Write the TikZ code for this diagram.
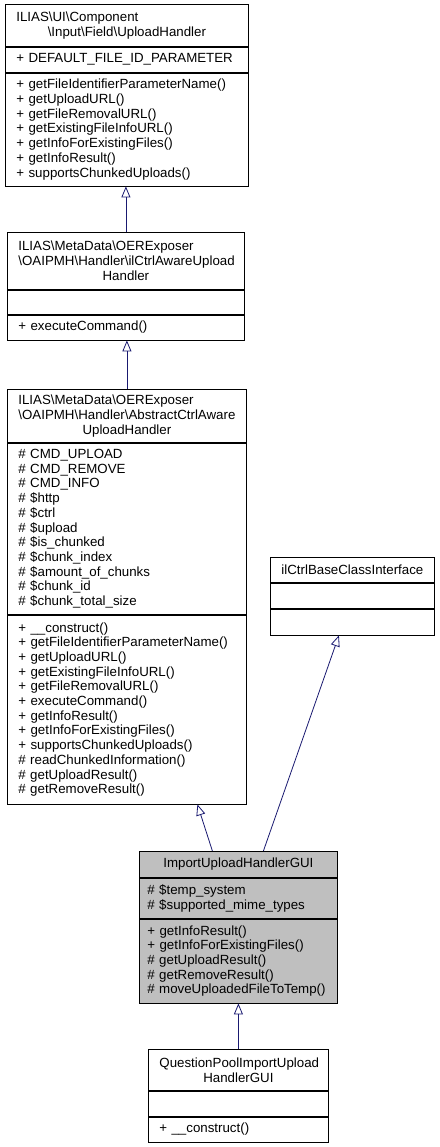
\documentclass[tikz,border=0pt]{standalone}
\usepackage{fontspec}
\setmainfont{Liberation Sans}
\usetikzlibrary{arrows.meta}
\hyphenpenalty=10000
\exhyphenpenalty=10000
\newcommand{\nsep}{\textbackslash}
\newcommand{\lline}[1]{\makebox[\linewidth][l]{#1}}
\definecolor{edgeblue}{HTML}{191970}
\definecolor{curgray}{HTML}{BFBFBF}

\begin{document}
\begin{tikzpicture}[x=1pt, y=-1pt,
    sect/.style={draw=black, line width=0.8pt, fill=white, inner xsep=8pt, inner ysep=0pt,
      anchor=north west, align=left, font=\fontsize{13.3}{14.7}\selectfont},
    head/.style={sect, align=center},
    wide/.style={inner xsep=11pt},
    inh/.style={draw=edgeblue, line width=0.8pt, -{Triangle[open, length=11pt, width=9pt]}}]
    \useasboundingbox (0,0) rectangle (439,1147);

    % UploadHandler 接口
    \node[head, wide, text width=221pt, minimum height=42pt] (uhT) at (5,4)
      {\lline{ILIAS\nsep UI\nsep Component}\\\nsep Input\nsep Field\nsep UploadHandler};
    \node[sect, wide, text width=221pt, minimum height=25pt] (uhA) at (uhT.south west)
      {+ DEFAULT\_FILE\_ID\_PARAMETER};
    \node[sect, wide, text width=221pt, minimum height=113pt] (uhM) at (uhA.south west)
      {+ getFileIdentifierParameterName()\\+ getUploadURL()\\+ getFileRemovalURL()\\
       + getExistingFileInfoURL()\\+ getInfoForExistingFiles()\\+ getInfoResult()\\
       + supportsChunkedUploads()};

    % ilCtrlAwareUploadHandler
    \node[head, wide, text width=215pt, minimum height=57pt] (awT) at (7,232)
      {\lline{ILIAS\nsep MetaData\nsep OERExposer}\\\lline{\nsep OAIPMH\nsep Handler\nsep ilCtrlAwareUpload}\\Handler};
    \node[sect, wide, text width=215pt, minimum height=24pt] (awA) at (awT.south west) {};
    \node[sect, wide, text width=215pt, minimum height=25pt] (awM) at (awA.south west)
      {+ executeCommand()};

    % AbstractCtrlAwareUploadHandler
    \node[head, wide, text width=217pt, minimum height=53pt] (abT) at (7,389)
      {\lline{ILIAS\nsep MetaData\nsep OERExposer}\\\lline{\nsep OAIPMH\nsep Handler\nsep AbstractCtrlAware}\\UploadHandler};
    \node[sect, wide, text width=217pt, minimum height=171pt] (abA) at (abT.south west)
      {\# CMD\_UPLOAD\\\# CMD\_REMOVE\\\# CMD\_INFO\\\# \$http\\\# \$ctrl\\\# \$upload\\
       \# \$is\_chunked\\\# \$chunk\_index\\\# \$amount\_of\_chunks\\\# \$chunk\_id\\
       \# \$chunk\_total\_size};
    \node[sect, wide, text width=217pt, minimum height=189pt] (abM) at (abA.south west)
      {+ \_\_construct()\\+ getFileIdentifierParameterName()\\+ getUploadURL()\\
       + getExistingFileInfoURL()\\+ getFileRemovalURL()\\+ executeCommand()\\
       + getInfoResult()\\+ getInfoForExistingFiles()\\+ supportsChunkedUploads()\\
       \# readChunkedInformation()\\\# getUploadResult()\\\# getRemoveResult()};

    % ilCtrlBaseClassInterface
    \node[head, text width=148pt, minimum height=25pt] (bcT) at (270,557)
      {ilCtrlBaseClassInterface};
    \node[sect, text width=148pt, minimum height=25pt] (bcA) at (bcT.south west) {};
    \node[sect, text width=148pt, minimum height=26pt] (bcM) at (bcA.south west) {};

    % 当前类
    \node[head, fill=curgray, text width=182pt, minimum height=26pt] (impT) at (139,851)
      {ImportUploadHandlerGUI};
    \node[sect, fill=curgray, text width=182pt, minimum height=40pt] (impA) at (impT.south west)
      {\# \$temp\_system\\\# \$supported\_mime\_types};
    \node[sect, fill=curgray, text width=182pt, minimum height=84pt] (impM) at (impA.south west)
      {+ getInfoResult()\\+ getInfoForExistingFiles()\\\# getUploadResult()\\
       \# getRemoveResult()\\\# moveUploadedFileToTemp()};

    % 子类
    \node[head, wide, text width=158pt, minimum height=41pt] (qpT) at (148,1049)
      {\lline{QuestionPoolImportUpload}\\HandlerGUI};
    \node[sect, wide, text width=158pt, minimum height=25pt] (qpA) at (qpT.south west) {};
    \node[sect, wide, text width=158pt, minimum height=25pt] (qpM) at (qpA.south west)
      {+ \_\_construct()};

    % 继承关系
    \draw[inh] (awT.north) -- (awT.north |- uhM.south);
    \draw[inh] (abT.north) -- (abT.north |- awM.south);
    \draw[inh] ([xshift=-26pt]impT.north) -- ([xshift=70.5pt]abM.south);
    \draw[inh] ([xshift=25pt]impT.north) -- ([xshift=-13.5pt]bcM.south);
    \draw[inh] (qpT.north) -- (qpT.north |- impM.south);
\end{tikzpicture}
\end{document}
